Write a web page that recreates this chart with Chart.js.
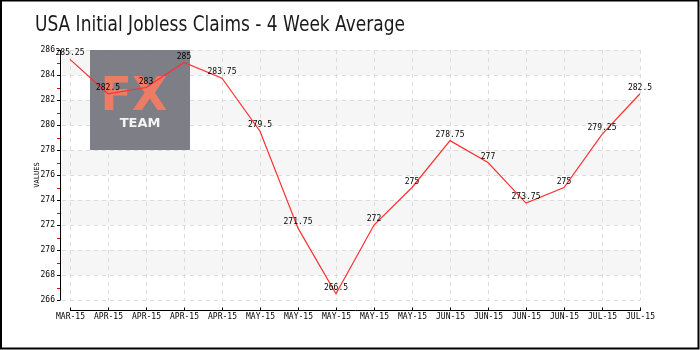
<!DOCTYPE html>
<html>
<head>
<meta charset="utf-8">
<script src="https://cdn.jsdelivr.net/npm/chart.js@4"></script>
<style>
  html, body { margin: 0; padding: 0; background: #fff; }
  canvas { display: block; }
</style>
</head>
<body>
<canvas id="c" width="700" height="350"></canvas>
<script>
// Weekly release dates (month labels) and the 4-week average of initial claims (thousands)
const categories = ['MAR-15', 'APR-15', 'APR-15', 'APR-15', 'APR-15', 'MAY-15', 'MAY-15', 'MAY-15',
                    'MAY-15', 'MAY-15', 'JUN-15', 'JUN-15', 'JUN-15', 'JUN-15', 'JUL-15', 'JUL-15'];
const claimsAvg = [285.25, 282.5, 283, 285, 283.75, 279.5, 271.75, 266.5,
                   272, 275, 278.75, 277, 273.75, 275, 279.25, 282.5];
const yTicks = [266, 268, 270, 272, 274, 276, 278, 280, 282, 284, 286];

const TITLE = 'USA Initial Jobless Claims - 4 Week Average';
const SMALL_FONT = '8px "DejaVu Sans Mono", monospace';

// Frame, bands, dashed grid, axes, ticks and the logo box
const framePlugin = {
  id: 'frame',
  beforeDraw(chart) {
    const { ctx, chartArea: a, scales: { x, y } } = chart;
    ctx.save();
    ctx.fillStyle = '#fff';
    ctx.fillRect(0, 0, chart.width, chart.height);

    // outer border
    ctx.strokeStyle = '#000';
    ctx.lineWidth = 2;
    ctx.strokeRect(1, 0.5, 697.5, 348);

    // title
    ctx.fillStyle = '#1a1a1a';
    ctx.font = '22px "DejaVu Sans", sans-serif';
    ctx.textBaseline = 'alphabetic';
    ctx.textAlign = 'left';
    const w = ctx.measureText(TITLE).width;
    ctx.save();
    ctx.translate(35, 31);
    ctx.scale(370 / w, 1);
    ctx.fillText(TITLE, 0, 0);
    ctx.restore();

    const gridLeft = a.left + 2;
    const gridRight = a.right;

    // alternating bands
    ctx.fillStyle = '#f6f6f6';
    for (let v = 266; v < 286; v += 4) {
      const yTop = y.getPixelForValue(v + 4);
      const yBot = y.getPixelForValue(v + 2);
      ctx.fillRect(gridLeft, yTop, gridRight - gridLeft, yBot - yTop);
    }

    // dashed grid
    ctx.strokeStyle = '#dcdcdc';
    ctx.lineWidth = 1;
    ctx.setLineDash([4, 4]);
    yTicks.forEach(v => {
      const py = Math.round(y.getPixelForValue(v)) + 0.5;
      ctx.beginPath();
      ctx.moveTo(gridLeft, py);
      ctx.lineTo(gridRight, py);
      ctx.stroke();
    });
    categories.forEach((_, i) => {
      const px = Math.round(x.getPixelForValue(i)) + 0.5;
      ctx.beginPath();
      ctx.moveTo(px, a.top);
      ctx.lineTo(px, a.bottom);
      ctx.stroke();
    });
    ctx.setLineDash([]);

    // y axis
    ctx.strokeStyle = '#000';
    ctx.beginPath();
    ctx.moveTo(a.left + 0.5, a.top);
    ctx.lineTo(a.left + 0.5, a.bottom + 0.5);
    ctx.stroke();
    for (let v = 266; v <= 286; v++) {
      const py = Math.round(y.getPixelForValue(v)) + 0.5;
      ctx.strokeStyle = v % 2 === 0 ? '#000' : '#e00';
      ctx.beginPath();
      ctx.moveTo(a.left - 3, py);
      ctx.lineTo(a.left, py);
      ctx.stroke();
    }
    ctx.fillStyle = '#000';
    ctx.font = SMALL_FONT;
    ctx.textAlign = 'right';
    ctx.textBaseline = 'middle';
    yTicks.forEach(v => {
      ctx.fillText(String(v), a.left - 5, y.getPixelForValue(v));
    });

    // y axis title
    ctx.save();
    ctx.translate(37, (a.top + a.bottom) / 2);
    ctx.rotate(-Math.PI / 2);
    ctx.textAlign = 'center';
    ctx.textBaseline = 'middle';
    ctx.font = '7px "DejaVu Sans Mono", monospace';
    ctx.fillText('VALUES', 0, 0);
    ctx.restore();

    // x axis, sitting a little below the plot
    const axY = a.bottom + 10.5;
    const x0 = x.getPixelForValue(0);
    const x1 = x.getPixelForValue(categories.length - 1);
    ctx.strokeStyle = '#000';
    ctx.beginPath();
    ctx.moveTo(x0, axY);
    ctx.lineTo(x1 + 1, axY);
    ctx.stroke();
    ctx.textAlign = 'center';
    ctx.textBaseline = 'top';
    categories.forEach((lab, i) => {
      const px = Math.round(x.getPixelForValue(i)) + 0.5;
      ctx.beginPath();
      ctx.moveTo(px, axY - 3);
      ctx.lineTo(px, axY);
      ctx.stroke();
      ctx.fillText(lab, px, axY + 2);
    });

    // logo box
    ctx.fillStyle = 'rgba(118,118,126,0.94)';
    ctx.fillRect(90, 50, 100, 100);
    ctx.fillStyle = '#ec7c66';
    ctx.font = 'bold 46px "DejaVu Sans", sans-serif';
    ctx.textAlign = 'center';
    ctx.textBaseline = 'alphabetic';
    ctx.fillText('FX', 134, 110);
    ctx.fillStyle = '#f4f4f4';
    ctx.font = 'bold 13px "DejaVu Sans", sans-serif';
    ctx.fillText('TEAM', 140, 127);
    ctx.restore();
  }
};

// Value labels above each point
const valueLabels = {
  id: 'valueLabels',
  afterDatasetsDraw(chart) {
    const { ctx } = chart;
    const meta = chart.getDatasetMeta(0);
    ctx.save();
    ctx.fillStyle = '#000';
    ctx.font = SMALL_FONT;
    ctx.textAlign = 'center';
    ctx.textBaseline = 'middle';
    meta.data.forEach((pt, i) => {
      ctx.fillText(String(claimsAvg[i]), pt.x, pt.y - 6);
    });
    ctx.restore();
  }
};

new Chart(document.getElementById('c'), {
  type: 'line',
  data: {
    datasets: [{
      label: 'Initial Claims 4-Week Avg',
      data: claimsAvg.map((v, i) => ({ x: i, y: v })),
      borderColor: '#ff3030',
      borderWidth: 1.2,
      pointRadius: 0,
      tension: 0,
      fill: false
    }]
  },
  options: {
    responsive: false,
    animation: false,
    layout: { padding: { left: 60, right: 60, top: 50, bottom: 50 } },
    plugins: { legend: { display: false }, tooltip: { enabled: false } },
    scales: {
      x: { type: 'linear', min: -10 / 38, max: categories.length - 1, display: false },
      y: { min: 266, max: 286, display: false }
    }
  },
  plugins: [framePlugin, valueLabels]
});
</script>
</body>
</html>
